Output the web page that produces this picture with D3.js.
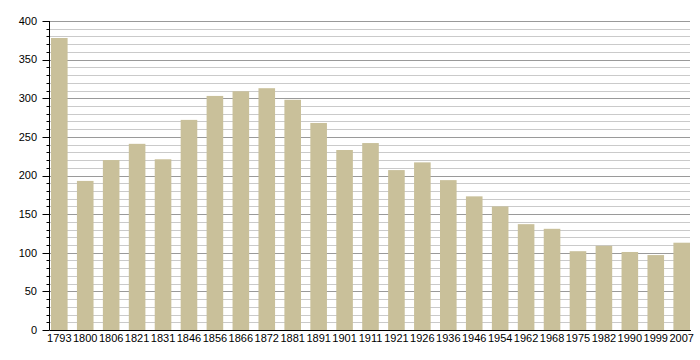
<!DOCTYPE html>
<html><head><meta charset="utf-8">
<script src="https://cdn.jsdelivr.net/npm/d3@7"></script>
<style>body{margin:0;background:#fff}svg{display:block}text{font-family:"Liberation Sans",Arial,sans-serif;font-size:11px;fill:#000}</style>
</head><body><svg width="700" height="360"></svg>
<script>
const years = ["1793","1800","1806","1821","1831","1846","1856","1866","1872","1881","1891","1901","1911","1921","1926","1936","1946","1954","1962","1968","1975","1982","1990","1999","2007"];
const population = [378,193,220,241,221,272,303,309,313,298,268,233,242,207,217,194,173,160,137,131,102,109,101,97,113];
const yTicks = [0,50,100,150,200,250,300,350,400];

const svg = d3.select("svg");
const axisX = 49.5, x0 = 50, x1 = 690, yTop = 21, yBot = 330;
const x = d3.scaleBand().domain(years).range([x0+1, x1]).paddingInner(0.36).paddingOuter(0);
const y = d3.scaleLinear().domain([0,400]).range([yBot, yTop]);

const minor = d3.range(10, 401, 10).filter(v => v % 50 !== 0);
svg.append("g").selectAll("line").data(minor).join("line")
  .attr("x1", x0).attr("x2", x1).attr("y1", d => Math.round(y(d))+0.5).attr("y2", d => Math.round(y(d))+0.5)
  .attr("stroke", "#cacaca").attr("stroke-width", 1);
svg.append("g").selectAll("line").data(yTicks.filter(v => v > 0)).join("line")
  .attr("x1", x0).attr("x2", x1).attr("y1", d => Math.round(y(d))+0.5).attr("y2", d => Math.round(y(d))+0.5)
  .attr("stroke", "#9a9a9a").attr("stroke-width", 1);

svg.append("g").selectAll("rect").data(population).join("rect")
  .attr("x", (d,i) => x(years[i])).attr("width", x.bandwidth())
  .attr("y", d => y(d)).attr("height", d => yBot - y(d))
  .attr("fill", "#c9c09a");

// y axis
const ya = svg.append("g");
ya.append("line").attr("x1", axisX).attr("x2", axisX).attr("y1", yTop).attr("y2", yBot).attr("stroke", "#000");
ya.selectAll("line.mi").data(minor).join("line").attr("class","mi")
  .attr("x1", axisX-3).attr("x2", axisX).attr("y1", d => Math.round(y(d))+0.5).attr("y2", d => Math.round(y(d))+0.5).attr("stroke", "#000");
ya.selectAll("line.ma").data(yTicks).join("line").attr("class","ma")
  .attr("x1", axisX-7).attr("x2", axisX).attr("y1", d => Math.round(y(d))+0.5).attr("y2", d => Math.round(y(d))+0.5).attr("stroke", "#000");
ya.selectAll("text").data(yTicks).join("text")
  .attr("x", 37).attr("y", d => y(d)).attr("dy", "0.35em").attr("text-anchor", "end").text(d => d);

// x axis
svg.append("line").attr("x1", axisX).attr("x2", x1+1).attr("y1", yBot+0.5).attr("y2", yBot+0.5).attr("stroke", "#000");
svg.append("g").selectAll("text").data(years).join("text")
  .attr("x", d => x(d) + x.bandwidth()/2).attr("y", 342).attr("text-anchor", "middle").text(d => d);
</script></body></html>
